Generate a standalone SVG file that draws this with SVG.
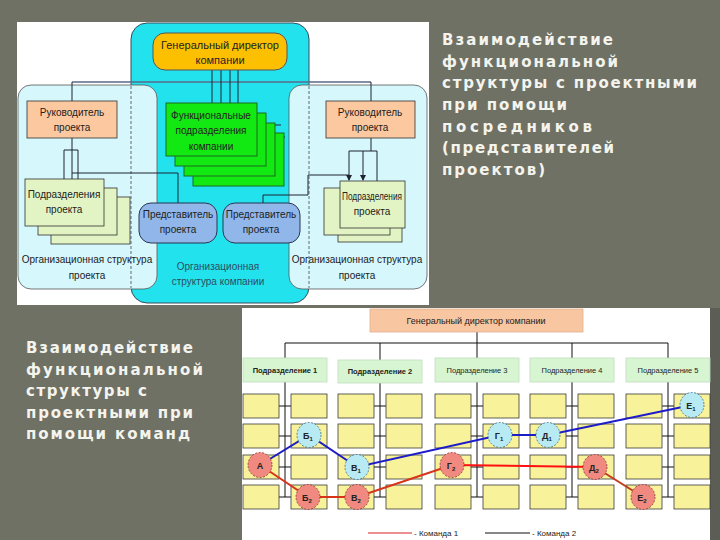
<svg xmlns="http://www.w3.org/2000/svg" width="720" height="540" viewBox="0 0 720 540">
<style>
.t{font-family:"Liberation Sans",Arial,sans-serif;fill:#222;text-anchor:middle}
.t10{font-size:10px}
.t11{font-size:11px}
.title{font-family:"DejaVu Sans",Verdana,sans-serif;font-weight:bold;font-size:15px;fill:#f4f4ee}
.ln{stroke:#1e2430;stroke-width:1;fill:none}
.green{fill:#12e812;stroke:#1d6a1d;stroke-width:1}
.sub{fill:#e2f4c4;stroke:#333;stroke-width:0.8}
.rep{fill:#90b6ea;stroke:#2a3550;stroke-width:1}
.peach{fill:#fbc8a0;stroke:#333;stroke-width:0.8}
.cell{fill:#f8f29a;stroke:#3a3a3a;stroke-width:0.8}
.div{fill:#d8f5d2;stroke:#c0dcc0;stroke-width:0.8}
.bl{stroke:#111;stroke-width:1;fill:none}
.st{font-family:"Liberation Sans",Arial,sans-serif;font-size:7.5px;fill:#222;text-anchor:middle}
.red{fill:#f08a80;stroke:#8a3030;stroke-width:0.8;stroke-dasharray:2 1.5}
.blue{fill:#b8eaf4;stroke:#3a6a80;stroke-width:0.8;stroke-dasharray:2 1.5}
.ct{font-family:"Liberation Sans",Arial,sans-serif;font-size:9px;font-weight:bold;fill:#222;text-anchor:middle}
</style>
<defs>
<marker id="arr" markerWidth="6" markerHeight="6" refX="5" refY="3" orient="auto" markerUnits="userSpaceOnUse">
<path d="M0,0 L6,3 L0,6 z" fill="#1e2430"/>
</marker>
</defs>
<rect width="720" height="540" fill="#6f7165"/>

<!-- ===== Top diagram ===== -->
<g id="top-panel">
<rect x="17" y="22" width="412" height="283" fill="#ffffff"/>
<rect x="131" y="23" width="178" height="280" rx="16" fill="#22e2ee" stroke="#3a4a5a" stroke-width="1"/>
<rect x="18" y="85" width="139" height="204" rx="13" fill="#d6f7fb" stroke="#555" stroke-width="0.8"/>
<rect x="289" y="85" width="138" height="204" rx="13" fill="#d6f7fb" stroke="#555" stroke-width="0.8"/>
<line x1="131" y1="86" x2="131" y2="288" stroke="#445" stroke-width="0.8" stroke-dasharray="3 2"/>
<line x1="309" y1="86" x2="309" y2="288" stroke="#445" stroke-width="0.8" stroke-dasharray="3 2"/>
</g>

<g id="top-connectors">
<line x1="72" y1="82" x2="371" y2="82" stroke="#5a6a8a" stroke-width="1.5"/>
<path class="ln" d="M72,82 V101 M371,82 V101"/>
<path class="ln" d="M212,70 V103 M221,70 V103 M230,70 V103 M238,70 V103"/>
<path class="ln" d="M266,125 H281 M275,137 H285"/>
<path class="ln" d="M72,138 V150 M64,150 H78 M64,150 V179 M72,150 V179 M78,150 V179 M72,173 H178 V203"/>
<path class="ln" d="M371,138 V151 M349,151 H377 M377,151 V181"/>
<path class="ln" d="M349,151 V180" marker-end="url(#arr)"/>
<path class="ln" d="M363,151 V180" marker-end="url(#arr)"/>
<path class="ln" d="M263,203 V195 H308 V175 H349"/>
</g>

<g id="director">
<rect x="153" y="33" width="134" height="37" rx="12" fill="#fcc000" stroke="#555" stroke-width="1"/>
<text class="t t11" x="220" y="49">Генеральный директор</text>
<text class="t t11" x="220" y="64">компании</text>
</g>

<g id="functional-units">
<rect class="green" x="193" y="133" width="91" height="53"/>
<rect class="green" x="184" y="123" width="91" height="53"/>
<rect class="green" x="175" y="113" width="91" height="53"/>
<rect class="green" x="166" y="103" width="91" height="53"/>
<text class="t t10" x="211" y="119">Функциональные</text>
<text class="t t10" x="211" y="134">подразделения</text>
<text class="t t10" x="211" y="150">компании</text>
</g>

<g id="pm-left">
<rect class="peach" x="27" y="101" width="90" height="37"/>
<text class="t t10" x="72" y="116">Руководитель</text>
<text class="t t10" x="72" y="131">проекта</text>
</g>
<g id="pm-right">
<rect class="peach" x="326" y="101" width="89" height="37"/>
<text class="t t10" x="370" y="116">Руководитель</text>
<text class="t t10" x="370" y="131">проекта</text>
</g>

<g id="units-left">
<rect class="sub" x="51" y="197" width="79" height="47"/>
<rect class="sub" x="38" y="188" width="79" height="47"/>
<rect class="sub" x="25" y="179" width="79" height="47"/>
<text class="t t10" x="64" y="198">Подразделения</text>
<text class="t t10" x="64" y="213">проекта</text>
</g>
<g id="units-right">
<rect class="sub" x="338" y="195" width="64" height="47"/>
<rect class="sub" x="324" y="188" width="66" height="47"/>
<rect class="sub" x="340" y="181" width="65" height="47"/>
<text class="t t10" x="372" y="200" textLength="60" lengthAdjust="spacingAndGlyphs">Подразделения</text>
<text class="t t10" x="372" y="215">проекта</text>
</g>

<g id="rep-left">
<rect class="rep" x="139" y="203" width="78" height="40" rx="12"/>
<text class="t t10" x="178" y="218">Представитель</text>
<text class="t t10" x="178" y="233">проекта</text>
</g>
<g id="rep-right">
<rect class="rep" x="223" y="203" width="77" height="40" rx="12"/>
<text class="t t10" x="261" y="218">Представитель</text>
<text class="t t10" x="261" y="233">проекта</text>
</g>

<g id="labels-top">
<text class="t t10" x="87" y="263">Организационная структура</text>
<text class="t t10" x="87" y="279">проекта</text>
<text class="t t10" x="357" y="263">Организационная структура</text>
<text class="t t10" x="357" y="279">проекта</text>
<text class="t t10" x="218" y="270" style="fill:#2e4d5e">Организационная</text>
<text class="t t10" x="218" y="285" style="fill:#2e4d5e">структура компании</text>
</g>

<!-- ===== Titles ===== -->
<g id="title-top">
<text class="title" x="442" y="45" textLength="171" lengthAdjust="spacing">Взаимодействие</text>
<text class="title" x="442" y="67" textLength="176" lengthAdjust="spacing">функциональной</text>
<text class="title" x="442" y="88" textLength="255" lengthAdjust="spacing">структуры с проектными</text>
<text class="title" x="442" y="110" textLength="125" lengthAdjust="spacing">при помощи</text>
<text class="title" x="442" y="132" textLength="150" lengthAdjust="spacing">посредников</text>
<text class="title" x="442" y="153" textLength="172" lengthAdjust="spacing">(представителей</text>
<text class="title" x="442" y="175" textLength="103" lengthAdjust="spacing">проектов)</text>
</g>
<g id="title-bottom">
<text class="title" x="26" y="353" textLength="167" lengthAdjust="spacing">Взаимодействие</text>
<text class="title" x="26" y="375" textLength="177" lengthAdjust="spacing">функциональной</text>
<text class="title" x="26" y="396" textLength="121" lengthAdjust="spacing">структуры с</text>
<text class="title" x="26" y="418" textLength="167" lengthAdjust="spacing">проектными при</text>
<text class="title" x="26" y="439" textLength="164" lengthAdjust="spacing">помощи команд</text>
</g>

<!-- ===== Bottom diagram ===== -->
<g id="bottom-panel">
<rect x="242" y="308" width="468" height="232" fill="#ffffff"/>
<rect x="710" y="308" width="10" height="232" fill="#5c5e55"/>
</g>

<g id="bottom-connectors">
<path class="bl" d="M477,332 V343 M285,343 H668 M285,343 V358 M380,343 V360 M477,343 V358 M572,343 V358 M668,343 V358"/>
<path class="bl" d="M285,382 V497 M380,383 V497 M477,382 V497 M572,382 V497 M668,382 V497"/>
<path class="bl" d="M279,406 H291 M279,436 H291 M279,467 H291 M279,497 H291
M374,406 H386 M374,436 H386 M374,467 H386 M374,497 H386
M471,406 H483 M471,436 H483 M471,467 H483 M471,497 H483
M566,406 H578 M566,436 H578 M566,467 H578 M566,497 H578
M662,406 H674 M662,436 H674 M662,467 H674 M662,497 H674"/>
</g>

<g id="gd">
<rect x="370" y="309" width="213" height="23" fill="#f8c6a0" stroke="#e0b090" stroke-width="0.8"/>
<text class="st" x="476" y="324" style="font-size:9px">Генеральный директор компании</text>
</g>

<g id="divisions">
<rect class="div" x="243" y="358" width="84" height="24"/>
<text class="st" x="285" y="373" font-weight="bold">Подразделение 1</text>
<rect class="div" x="338" y="360" width="84" height="23"/>
<text class="st" x="380" y="374" font-weight="bold">Подразделение 2</text>
<rect class="div" x="435" y="358" width="84" height="24"/>
<text class="st" x="477" y="373">Подразделение 3</text>
<rect class="div" x="530" y="358" width="84" height="24"/>
<text class="st" x="572" y="373">Подразделение 4</text>
<rect class="div" x="626" y="358" width="84" height="24"/>
<text class="st" x="668" y="373">Подразделение 5</text>
</g>

<g id="cells">
<g id="col1">
<rect class="cell" x="243" y="394" width="36" height="24"/><rect class="cell" x="291" y="394" width="36" height="24"/>
<rect class="cell" x="243" y="424" width="36" height="24"/><rect class="cell" x="291" y="424" width="36" height="24"/>
<rect class="cell" x="243" y="455" width="36" height="24"/><rect class="cell" x="291" y="455" width="36" height="24"/>
<rect class="cell" x="243" y="485" width="36" height="24"/><rect class="cell" x="291" y="485" width="36" height="24"/>
</g>
<g id="col2">
<rect class="cell" x="338" y="394" width="36" height="24"/><rect class="cell" x="386" y="394" width="36" height="24"/>
<rect class="cell" x="338" y="424" width="36" height="24"/><rect class="cell" x="386" y="424" width="36" height="24"/>
<rect class="cell" x="338" y="455" width="36" height="24"/><rect class="cell" x="386" y="455" width="36" height="24"/>
<rect class="cell" x="338" y="485" width="36" height="24"/><rect class="cell" x="386" y="485" width="36" height="24"/>
</g>
<g id="col3">
<rect class="cell" x="435" y="394" width="36" height="24"/><rect class="cell" x="483" y="394" width="36" height="24"/>
<rect class="cell" x="435" y="424" width="36" height="24"/><rect class="cell" x="483" y="424" width="36" height="24"/>
<rect class="cell" x="435" y="455" width="36" height="24"/><rect class="cell" x="483" y="455" width="36" height="24"/>
<rect class="cell" x="435" y="485" width="36" height="24"/><rect class="cell" x="483" y="485" width="36" height="24"/>
</g>
<g id="col4">
<rect class="cell" x="530" y="394" width="36" height="24"/><rect class="cell" x="578" y="394" width="36" height="24"/>
<rect class="cell" x="530" y="424" width="36" height="24"/><rect class="cell" x="578" y="424" width="36" height="24"/>
<rect class="cell" x="530" y="455" width="36" height="24"/><rect class="cell" x="578" y="455" width="36" height="24"/>
<rect class="cell" x="530" y="485" width="36" height="24"/><rect class="cell" x="578" y="485" width="36" height="24"/>
</g>
<g id="col5">
<rect class="cell" x="626" y="394" width="36" height="24"/><rect class="cell" x="674" y="394" width="36" height="24"/>
<rect class="cell" x="626" y="424" width="36" height="24"/><rect class="cell" x="674" y="424" width="36" height="24"/>
<rect class="cell" x="626" y="455" width="36" height="24"/><rect class="cell" x="674" y="455" width="36" height="24"/>
<rect class="cell" x="626" y="485" width="36" height="24"/><rect class="cell" x="674" y="485" width="36" height="24"/>
</g>
</g>

<g id="team-lines">
<polyline points="260,465 308,497 357,497 452,465" fill="none" stroke="#d83418" stroke-width="2"/>
<line x1="452" y1="465" x2="595" y2="467" stroke="#ff1010" stroke-width="2"/>
<line x1="595" y1="467" x2="643" y2="497" stroke="#c23a1c" stroke-width="2"/>
<polyline points="260,465 309,435 357,467 500,435 548,435 692,405" fill="none" stroke="#1c1cc8" stroke-width="2"/>
</g>

<g id="team1">
<g id="A"><ellipse class="red" cx="260" cy="465" rx="12" ry="12.5"/><text class="ct" x="260" y="469">А</text></g>
<g id="B2"><ellipse class="red" cx="308" cy="497" rx="12" ry="12.5"/><text class="ct" x="307" y="501">Б<tspan font-size="6" dy="2">2</tspan></text></g>
<g id="V2"><ellipse class="red" cx="357" cy="497" rx="12" ry="12.5"/><text class="ct" x="356" y="501">В<tspan font-size="6" dy="2">2</tspan></text></g>
<g id="G2"><ellipse class="red" cx="452" cy="465" rx="12" ry="12.5"/><text class="ct" x="451" y="469">Г<tspan font-size="6" dy="2">2</tspan></text></g>
<g id="D2"><ellipse class="red" cx="595" cy="467" rx="12" ry="12.5"/><text class="ct" x="594" y="471">Д<tspan font-size="6" dy="2">2</tspan></text></g>
<g id="E2"><ellipse class="red" cx="643" cy="497" rx="12" ry="12.5"/><text class="ct" x="642" y="501">Е<tspan font-size="6" dy="2">2</tspan></text></g>
</g>
<g id="team2">
<g id="B1"><ellipse class="blue" cx="309" cy="435" rx="12" ry="12.5"/><text class="ct" x="308" y="439">Б<tspan font-size="6" dy="2">1</tspan></text></g>
<g id="V1"><ellipse class="blue" cx="357" cy="467" rx="12" ry="12.5"/><text class="ct" x="356" y="471">В<tspan font-size="6" dy="2">1</tspan></text></g>
<g id="G1"><ellipse class="blue" cx="500" cy="435" rx="12" ry="12.5"/><text class="ct" x="499" y="439">Г<tspan font-size="6" dy="2">1</tspan></text></g>
<g id="D1"><ellipse class="blue" cx="548" cy="435" rx="12" ry="12.5"/><text class="ct" x="547" y="439">Д<tspan font-size="6" dy="2">1</tspan></text></g>
<g id="E1"><ellipse class="blue" cx="692" cy="405" rx="12" ry="12.5"/><text class="ct" x="691" y="409">Е<tspan font-size="6" dy="2">1</tspan></text></g>
</g>

<g id="legend">
<line x1="368" y1="533" x2="412" y2="533" stroke="#d82020" stroke-width="1.2"/>
<text x="414" y="536" style="font-family:'Liberation Sans',Arial,sans-serif;font-size:8px;fill:#222">- Команда 1</text>
<line x1="485" y1="533" x2="530" y2="533" stroke="#111" stroke-width="1.2"/>
<text x="532" y="536" style="font-family:'Liberation Sans',Arial,sans-serif;font-size:8px;fill:#222">- Команда 2</text>
</g>
</svg>
